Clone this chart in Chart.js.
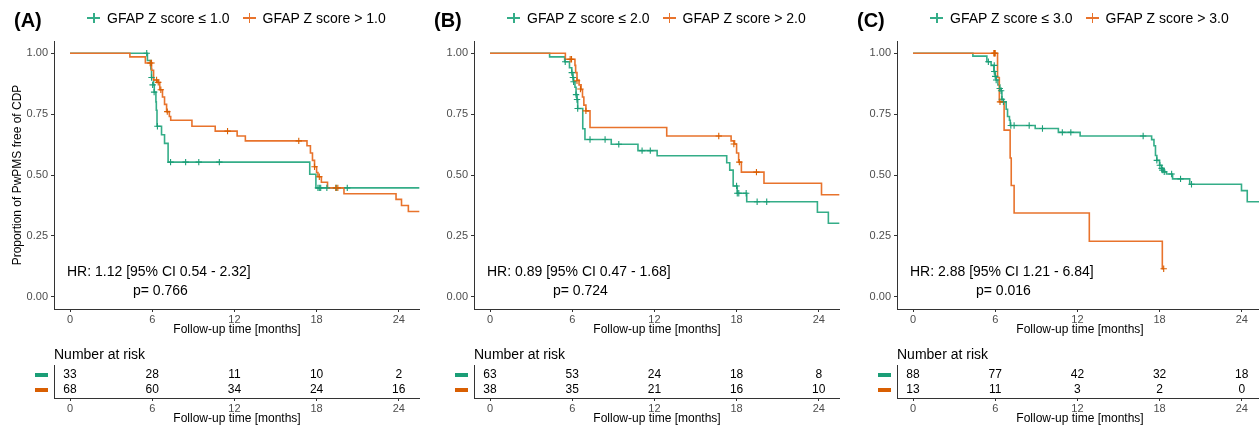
<!DOCTYPE html>
<html>
<head>
<meta charset="utf-8">
<script src="https://cdn.jsdelivr.net/npm/chart.js@4.4.1/dist/chart.umd.min.js"></script>
<style>
  html, body { margin: 0; padding: 0; background: #fff; }
  body { width: 1259px; height: 430px; position: relative; overflow: hidden;
         font-family: "Liberation Sans", Arial, sans-serif; color: #000; }
  .panel { position: absolute; top: 0; width: 420px; height: 430px; }
  .panel canvas { position: absolute; left: 0; }
  .tag { position: absolute; left: 14px; top: 8px; font-size: 20px; font-weight: bold; line-height: 24px; }
  .legend { position: absolute; left: 87px; top: 9px; display: flex; align-items: center;
            font-size: 14px; line-height: 18px; white-space: nowrap; }
  .item { display: flex; align-items: center; margin-right: 13px; }
  .key { position: relative; width: 13px; height: 10px; margin-right: 7px; }
  .key::before { content: ''; position: absolute; left: 0; top: 4px; width: 13px; height: 1.5px; background: currentColor; }
  .key::after { content: ''; position: absolute; left: 6px; top: 0; width: 1.5px; height: 10px; background: currentColor; }
  .hr { position: absolute; left: 67px; top: 263px; font-size: 14px; line-height: 16px; white-space: nowrap; }
  .pv { position: absolute; left: 133px; top: 282px; font-size: 14px; line-height: 16px; }
  .nrisk { position: absolute; left: 54px; top: 346px; font-size: 14px; line-height: 16px; }
</style>
</head>
<body>
<script>
// ---- data ----
const panelTags = ['(A)', '(B)', '(C)'];
const cutoffs = [1.0, 2.0, 3.0];
const hrTexts = ['HR: 1.12 [95% CI 0.54 - 2.32]', 'HR: 0.89 [95% CI 0.47 - 1.68]', 'HR: 2.88 [95% CI 1.21 - 6.84]'];
const pTexts = ['p= 0.766', 'p= 0.724', 'p= 0.016'];
const xTicks = [0, 6, 12, 18, 24];
const yTicks = [0, 0.25, 0.5, 0.75, 1];

// Kaplan-Meier steps [months, survival] and censor marks [months, survival]
const stepsLowA = [[0,1],[5.65,0.97],[5.9,0.935],[5.95,0.90],[6.1,0.87],[6.15,0.84],[6.27,0.80],[6.3,0.766],[6.35,0.70],
  [6.68,0.665],[6.9,0.63],[7.16,0.553],[17.5,0.503],[17.95,0.447],[25.5,0.447]];
const censorLowA = [[5.6,1.0],[5.95,0.90],[6.03,0.87],[6.14,0.84],[6.38,0.70],[7.34,0.553],[8.44,0.553],[9.4,0.553],
  [10.9,0.553],[18.1,0.447],[18.2,0.447],[18.3,0.447],[18.75,0.447],[19.44,0.447],[20.24,0.447]];
const stepsHighA = [[0,1],[4.37,0.985],[5.5,0.96],[5.95,0.93],[6.1,0.89],[6.4,0.88],[6.55,0.85],[6.75,0.82],[6.9,0.79],
  [7.05,0.76],[7.25,0.74],[7.35,0.725],[8.9,0.70],[10.6,0.68],[12.2,0.66],[12.8,0.64],[17.3,0.62],[17.55,0.59],
  [17.7,0.56],[17.85,0.534],[18.0,0.51],[18.1,0.493],[18.35,0.47],[18.8,0.447],[20.0,0.423],[23.8,0.40],
  [24.2,0.375],[24.7,0.35],[25.5,0.35]];
const censorHighA = [[5.85,0.96],[5.95,0.96],[6.32,0.89],[6.44,0.88],[6.63,0.85],[7.1,0.76],[11.5,0.68],[16.7,0.64],
  [17.85,0.534],[18.2,0.493],[19.4,0.447],[19.55,0.447]];

const stepsLowB = [[0,1],[4.35,0.985],[5.45,0.965],[5.8,0.94],[5.97,0.92],[6.05,0.90],[6.1,0.883],[6.2,0.86],
  [6.28,0.83],[6.35,0.81],[6.4,0.773],[6.77,0.69],[6.93,0.646],[8.85,0.626],[10.8,0.60],[12.2,0.579],[17.28,0.55],
  [17.5,0.52],[17.75,0.455],[18.05,0.425],[18.74,0.39],[23.9,0.347],[24.7,0.302],[25.5,0.302]];
const censorLowB = [[5.49,0.965],[5.97,0.92],[6.05,0.90],[6.1,0.883],[6.28,0.83],[6.35,0.81],[6.4,0.773],[7.3,0.646],
  [8.4,0.646],[9.4,0.626],[11.1,0.60],[11.7,0.60],[18.0,0.455],[18.05,0.425],[18.16,0.425],[18.7,0.425],
  [19.5,0.39],[20.2,0.39]];
const stepsHighB = [[0,1],[5.5,0.975],[6.2,0.95],[6.25,0.92],[6.35,0.89],[6.5,0.87],[6.65,0.85],[6.75,0.82],
  [6.85,0.787],[7.0,0.763],[7.3,0.695],[12.9,0.66],[17.6,0.64],[17.85,0.627],[18.0,0.59],[18.15,0.553],
  [18.35,0.512],[20.0,0.466],[24.2,0.419],[25.5,0.419]];
const censorHighB = [[5.85,0.975],[5.95,0.975],[6.35,0.887],[6.6,0.853],[7.0,0.763],[16.7,0.66],[17.8,0.627],
  [18.2,0.553],[19.45,0.512]];

const stepsLowC = [[0,1],[4.37,0.988],[5.39,0.965],[5.7,0.95],[5.9,0.925],[6.0,0.905],[6.07,0.89],[6.2,0.87],
  [6.33,0.855],[6.43,0.846],[6.49,0.811],[6.6,0.80],[6.8,0.77],[6.9,0.74],[7.04,0.725],[7.1,0.703],[8.92,0.691],
  [10.61,0.675],[12.2,0.66],[17.42,0.645],[17.59,0.62],[17.7,0.58],[17.8,0.56],[18.0,0.54],[18.15,0.527],
  [18.3,0.513],[18.5,0.504],[18.95,0.484],[20.2,0.462],[23.98,0.436],[24.4,0.39],[25.5,0.39]];
const censorLowC = [[5.5,0.965],[5.93,0.95],[5.93,0.925],[6.0,0.905],[6.07,0.89],[6.33,0.855],[6.43,0.846],
  [6.49,0.811],[6.6,0.80],[7.14,0.703],[7.38,0.703],[8.48,0.703],[9.45,0.691],[10.9,0.675],[11.52,0.675],
  [16.8,0.66],[17.8,0.56],[18.02,0.54],[18.15,0.527],[18.2,0.52],[18.34,0.513],[18.88,0.504],[19.53,0.484],
  [20.33,0.462]];
const stepsHighC = [[0,1],[6.17,0.90],[6.3,0.80],[6.65,0.684],[7.09,0.57],[7.17,0.457],[7.38,0.344],
  [12.87,0.228],[18.2,0.115],[18.3,0.115]];
const censorHighC = [[5.9,1.0],[5.95,1.0],[6.0,1.0],[6.35,0.80],[18.3,0.115]];

// number at risk at xTicks
const riskLowA = [33, 28, 11, 10, 2];
const riskHighA = [68, 60, 34, 24, 16];
const riskLowB = [63, 53, 24, 18, 8];
const riskHighB = [38, 35, 21, 16, 10];
const riskLowC = [88, 77, 42, 32, 18];
const riskHighC = [13, 11, 3, 2, 0];

// ---- drawing ----
const GREEN = '#1B9E77';
const ORANGE = '#D95F02';
const GREEN_LINE = '#34ad88';
const ORANGE_LINE = '#e8732c';
const AXIS = '#333333';
const X_MIN = -1.17, X_MAX = 25.55;
const panelLeft = [0, 420, 843];

Chart.defaults.font.family = '"Liberation Sans", Arial, sans-serif';

const panels = [
  { low: stepsLowA, high: stepsHighA, lowC: censorLowA, highC: censorHighA, rl: riskLowA, rh: riskHighA },
  { low: stepsLowB, high: stepsHighB, lowC: censorLowB, highC: censorHighB, rl: riskLowB, rh: riskHighB },
  { low: stepsLowC, high: stepsHighC, lowC: censorLowC, highC: censorHighC, rl: riskLowC, rh: riskHighC },
];

const toXY = arr => arr.map(([x, y]) => ({ x, y }));
const noPad = s => { s.paddingLeft = 0; s.paddingRight = 0; s.paddingTop = 0; s.paddingBottom = 0; };

function xScale(height, titlePad) {
  return {
    type: 'linear', min: X_MIN, max: X_MAX,
    afterBuildTicks: s => { s.ticks = xTicks.map(v => ({ value: v })); },
    afterFit: s => { s.height = height; noPad(s); },
    grid: { display: true, drawOnChartArea: false, drawTicks: true, tickLength: 3, color: AXIS },
    border: { display: true, color: AXIS, width: 1 },
    ticks: { color: '#4d4d4d', font: { size: 11 }, padding: 1, maxRotation: 0, autoSkip: false },
    title: { display: true, text: 'Follow-up time [months]', color: '#000', font: { size: 12 },
             padding: { top: 0, bottom: titlePad } }
  };
}

const riskText = {
  id: 'riskText',
  afterDraw(chart) {
    const ctx = chart.ctx;
    ctx.save();
    chart.data.datasets.forEach((ds, di) => {
      const meta = chart.getDatasetMeta(di);
      ctx.font = '12px "Liberation Sans", Arial, sans-serif';
      ctx.textAlign = 'center';
      ctx.textBaseline = 'middle';
      ctx.fillStyle = '#000';
      meta.data.forEach((pt, i) => ctx.fillText(String(ds.data[i].n), pt.x, pt.y));
      ctx.fillStyle = ds.keyColor;
      ctx.fillRect(chart.chartArea.left - 19, Math.round(meta.data[0].y) - 2, 13, 4);
    });
    ctx.restore();
  }
};

panels.forEach((p, k) => {
  const div = document.createElement('div');
  div.className = 'panel';
  div.style.left = panelLeft[k] + 'px';
  div.innerHTML =
    `<canvas class="km" width="420" height="346" style="top:0"></canvas>` +
    `<canvas class="rt" width="420" height="70" style="top:360px"></canvas>` +
    `<div class="tag">${panelTags[k]}</div>` +
    `<div class="legend">` +
      `<div class="item"><span class="key" style="color:${GREEN_LINE}"></span>GFAP Z score ≤ ${cutoffs[k].toFixed(1)}</div>` +
      `<div class="item"><span class="key" style="color:${ORANGE_LINE}"></span>GFAP Z score &gt; ${cutoffs[k].toFixed(1)}</div>` +
    `</div>` +
    `<div class="hr">${hrTexts[k]}</div>` +
    `<div class="pv">${pTexts[k]}</div>` +
    `<div class="nrisk">Number at risk</div>`;
  document.body.appendChild(div);

  const line = (data, color) => ({ type: 'line', data: toXY(data), borderColor: color, borderWidth: 1.6,
    stepped: true, pointRadius: 0, fill: false, tension: 0 });
  const marks = (data, color) => ({ type: 'scatter', data: toXY(data), borderColor: color, backgroundColor: color,
    pointStyle: 'cross', pointRadius: 3.2, borderWidth: 1.1, showLine: false });

  new Chart(div.querySelector('.km'), {
    type: 'line',
    data: { datasets: [ marks(p.highC, ORANGE), marks(p.lowC, GREEN), line(p.high, ORANGE_LINE), line(p.low, GREEN_LINE) ] },
    options: {
      responsive: false, animation: false, devicePixelRatio: 1,
      layout: { autoPadding: false, padding: { top: 41, right: 0, bottom: 0, left: 0 } },
      plugins: { legend: { display: false }, tooltip: { enabled: false } },
      scales: {
        x: xScale(37, 9),
        y: {
          min: -0.05, max: 1.05,
          afterBuildTicks: s => { s.ticks = yTicks.map(v => ({ value: v })); },
          afterFit: s => { s.width = 54; noPad(s); },
          grid: { display: true, drawOnChartArea: false, drawTicks: true, tickLength: 3, color: AXIS },
          border: { display: true, color: AXIS, width: 1 },
          ticks: { color: '#4d4d4d', font: { size: 11 }, padding: 3, callback: v => v.toFixed(2) },
          title: { display: k === 0, text: 'Proportion of PwPMS free of CDP', color: '#000', font: { size: 12 },
                   padding: { top: 10, bottom: 0 } }
        }
      }
    }
  });

  new Chart(div.querySelector('.rt'), {
    type: 'scatter',
    data: { datasets: [
      { data: xTicks.map((x, i) => ({ x, y: 1, n: p.rl[i] })), pointRadius: 0, keyColor: GREEN },
      { data: xTicks.map((x, i) => ({ x, y: 0, n: p.rh[i] })), pointRadius: 0, keyColor: ORANGE }
    ] },
    options: {
      responsive: false, animation: false, devicePixelRatio: 1,
      layout: { autoPadding: false, padding: { top: 5, right: 0, bottom: 0, left: 0 } },
      plugins: { legend: { display: false }, tooltip: { enabled: false } },
      scales: {
        x: xScale(32, 4.5),
        y: {
          min: -0.533, max: 1.667,
          afterFit: s => { s.width = 54; noPad(s); },
          grid: { display: false },
          border: { display: true, color: AXIS, width: 1 },
          ticks: { display: false }
        }
      }
    },
    plugins: [riskText]
  });
});
</script>
</body>
</html>
